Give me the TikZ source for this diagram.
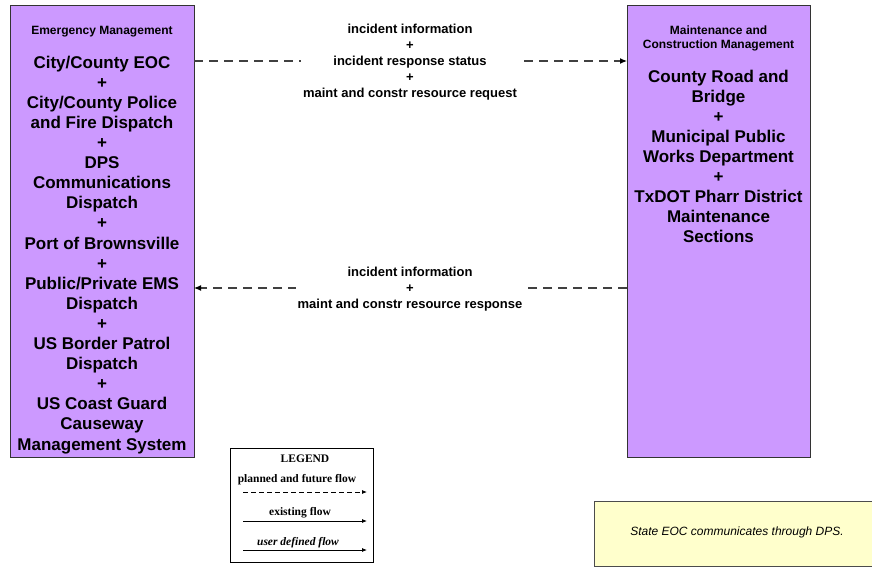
\documentclass[tikz,border=0pt]{standalone}
\usepackage{fontspec}
\setmainfont{Liberation Sans}
\newfontfamily\serifleg{Liberation Serif}
\usetikzlibrary{arrows.meta}
\definecolor{boxlav}{HTML}{CC99FF}
\definecolor{noteyel}{HTML}{FFFFCC}
\tikzset{
  entbox/.style={draw=black!80, fill=boxlav, line width=0.6pt},
  bigtxt/.style={font=\fontsize{17}{20.1}\selectfont\bfseries, align=center, inner sep=0pt},
  smalltxt/.style={font=\fontsize{12}{14}\selectfont\bfseries, align=center, inner sep=0pt},
  flowlbl/.style={font=\fontsize{13}{16}\selectfont\bfseries, align=center, fill=white, inner sep=2pt},
  flowline/.style={draw=black!75, line width=1.2pt, dash pattern=on 9pt off 6pt, -{Latex[length=7pt,width=6pt,black]}},
  legtxt/.style={font=\serifleg\fontsize{11.5}{12}\selectfont\bfseries, inner sep=0pt},
  legline/.style={line width=0.8pt, -{Latex[length=5pt,width=4pt]}},
}
\begin{document}
\begin{tikzpicture}[x=1pt,y=-1pt]
\useasboundingbox (0,0) rectangle (872,567);
% left box
\path[entbox] (10,5) rectangle (194,457);
\coordinate (lbR1) at (194,61);
\coordinate (lbR2) at (194,288);
\node[smalltxt, anchor=base] (lhead) at (102,34.3) {Emergency Management};
\node[bigtxt, anchor=north] (ltxt) at (102,55.6) {City/County EOC\\+\\City/County Police\\and Fire Dispatch\\+\\DPS\\Communications\\Dispatch\\+\\Port of Brownsville\\+\\Public/Private EMS\\Dispatch\\+\\US Border Patrol\\Dispatch\\+\\US Coast Guard\\Causeway\\Management System};
% right box
\path[entbox] (627,5) rectangle (810,457);
\coordinate (rbL1) at (627,61);
\coordinate (rbL2) at (627,288);
\node[smalltxt, anchor=north] (rhead) at (718.5,25.5) {Maintenance and\\Construction Management};
\node[bigtxt, anchor=north] (rtxt) at (718.5,69.6) {County Road and\\Bridge\\+\\Municipal Public\\Works Department\\+\\TxDOT Pharr District\\Maintenance\\Sections};
% flows
\draw[flowline] (lbR1) -- (rbL1);
\node[flowlbl] (f1) at (410,62) {incident information\\+\\incident response status\\+\\maint and constr resource request};
\draw[flowline] (rbL2) -- (lbR2);
\node[flowlbl] (f2) at (410,289) {incident information\\+\\maint and constr resource response};
% legend
\node[draw=black, line width=0.8pt, minimum width=143pt, minimum height=114pt, inner sep=0pt] (leg) at (301.5,505) {};
\node[legtxt] (legt) at (305,459) {LEGEND};
\node[legtxt] (l1) at (297,480) {planned and future flow};
\coordinate (l1a) at (243,492); \coordinate (l1b) at (367,492);
\draw[legline, dash pattern=on 5pt off 3pt] (l1a) -- (l1b);
\node[legtxt] (l2) at (300,513) {existing flow};
\coordinate (l2a) at (243,521); \coordinate (l2b) at (367,521);
\draw[legline] (l2a) -- (l2b);
\node[legtxt, font=\serifleg\fontsize{11.5}{12}\selectfont\bfseries\itshape] (l3) at (298,543) {user defined flow};
\coordinate (l3a) at (243,550); \coordinate (l3b) at (367,550);
\draw[legline] (l3a) -- (l3b);
% note
\path[draw=black!70, fill=noteyel, line width=0.6pt] (594,501) rectangle (872,566);
\node[font=\fontsize{12}{14}\selectfont\itshape, inner sep=0pt] (note) at (737,532) {State EOC communicates through DPS.};
\end{tikzpicture}
\end{document}
